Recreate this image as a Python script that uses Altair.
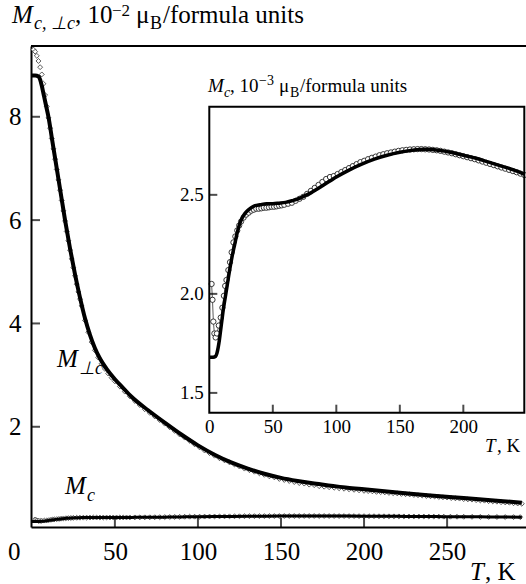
import altair as alt
import pandas as pd

# ---------------- data ----------------
# main panel: M_perp_c, 10^-2 mu_B / f.u.
T_perp_fit = [0, 2, 4, 5, 6, 7, 8, 9, 10, 12, 14, 16, 18, 20, 23, 26, 29, 32, 35, 38, 41, 45, 50, 55,
              60, 70, 80, 90, 100, 110, 120, 130, 140, 150, 160, 170, 180, 190, 200, 220, 240, 260, 280, 295]
M_perp_fit = [8.8, 8.8, 8.78, 8.72, 8.6, 8.45, 8.3, 8.15, 8.0, 7.6, 7.2, 6.8, 6.4, 6.0, 5.45, 4.95, 4.5, 4.1,
              3.78, 3.52, 3.32, 3.12, 2.92, 2.75, 2.58, 2.32, 2.08, 1.85, 1.64, 1.46, 1.31, 1.19, 1.09, 1.01,
              0.95, 0.90, 0.86, 0.82, 0.79, 0.73, 0.67, 0.62, 0.57, 0.53]

T_perp_pts = [1, 2, 3, 4, 5, 6, 7, 8, 9, 10, 11, 12, 13, 14, 15, 16, 17, 18, 19, 20, 21, 22, 23, 24, 25, 26,
              27, 28, 29, 30, 32, 34, 36, 38, 40, 42, 44, 46, 48, 50, 53, 56, 59, 62, 65, 68, 71, 74, 77, 80,
              83, 86, 89, 92, 95, 98, 101, 104, 107, 110, 113, 116, 119, 122, 125, 128, 131, 134, 137, 140,
              143, 146, 149, 152, 155, 158, 161, 164, 167, 170, 173, 176, 179, 182, 185, 188, 191, 194, 197,
              200, 202.5, 205, 207.5, 210, 212.5, 215, 217.5, 220, 222.5, 225, 227.5, 230, 232.5, 235, 237.5,
              240, 242.5, 245, 247.5, 250, 252.5, 255, 257.5, 260, 262.5, 265, 267.5, 270, 272.5, 275, 277.5,
              280, 282.5, 285, 287.5, 290, 292.5, 295]
M_perp_pts = [9.30, 9.26, 9.18, 9.08, 8.96, 8.82, 8.64, 8.42, 8.20, 7.98,
              7.78, 7.58, 7.38, 7.18, 6.98, 6.78, 6.58, 6.38, 6.18, 5.98,
              5.78, 5.60, 5.42, 5.25, 5.08, 4.92, 4.76, 4.61, 4.47, 4.34,
              4.06, 3.83, 3.64, 3.48, 3.34, 3.22, 3.12, 3.03, 2.95, 2.88,
              2.78, 2.68, 2.59, 2.50, 2.42, 2.34, 2.27, 2.20, 2.13, 2.06, 1.99, 1.92, 1.85, 1.79, 1.73, 1.66,
              1.60, 1.54, 1.49, 1.44, 1.39, 1.35, 1.31, 1.27, 1.23, 1.19, 1.16, 1.13, 1.10, 1.07, 1.04, 1.02,
              0.99, 0.97, 0.95, 0.93, 0.91, 0.90, 0.88, 0.87, 0.85, 0.84, 0.83, 0.82, 0.81, 0.80, 0.79, 0.78,
              0.77, 0.76,
              0.755, 0.75, 0.74, 0.735, 0.73, 0.72, 0.715, 0.71, 0.70, 0.695, 0.69, 0.68, 0.675, 0.67, 0.66,
              0.655, 0.65, 0.64, 0.635, 0.63, 0.62, 0.615, 0.61, 0.60, 0.595, 0.59, 0.58, 0.575, 0.57, 0.56,
              0.555, 0.55, 0.54, 0.535, 0.53, 0.52, 0.515, 0.51]

# M_c, 10^-3 mu_B / f.u. (inset; the main panel shows the same curve in 10^-2 units)
T_c_fit = [0, 3, 5, 6, 7, 8, 9, 10, 11, 12, 13, 14, 15, 16, 18, 20, 22, 24, 26, 28, 30, 33, 36, 40,
           45, 50, 55, 60, 65, 70, 75, 80, 85, 90, 95, 100, 110, 120, 130, 140, 150, 160, 170, 180,
           190, 200, 210, 220, 230, 240, 248, 260, 270, 280, 295]
M_c_fit = [1.68, 1.68, 1.685, 1.70, 1.73, 1.77, 1.82, 1.87, 1.92, 1.96, 2.00, 2.04, 2.08, 2.12,
           2.19, 2.25, 2.31, 2.355, 2.385, 2.405, 2.42, 2.435, 2.445, 2.45,
           2.455, 2.455, 2.458, 2.462, 2.47, 2.48, 2.495, 2.51, 2.53, 2.55, 2.57, 2.59,
           2.625, 2.655, 2.68, 2.70, 2.715, 2.725, 2.73, 2.725, 2.715, 2.70, 2.685, 2.665, 2.645, 2.625,
           2.605, 2.58, 2.56, 2.54, 2.51]

T_c_pts = [1.8, 2.5, 3.2, 4.0, 5.0, 6.0, 7.5, 9.0, 10.3, 11.5, 12.5, 13.5, 15.0, 16.3, 17.6, 19.0, 20.5,
           22.0, 23.5, 25.0, 27, 29, 31, 33, 35, 37, 39, 41, 43, 45, 47, 49, 51, 53, 55, 57, 59,
           62, 65, 68, 71, 74, 77, 80, 83, 86, 89, 92, 95, 98,
           101, 104, 107, 110, 113, 116, 119, 122, 125, 128, 131, 134, 137, 140, 143, 146, 149, 152, 155,
           158, 161, 164, 167, 170, 173, 176, 179, 182, 185, 188, 191, 194, 197, 200, 203, 206, 209, 212,
           215, 218, 221, 224, 227, 230, 233, 236, 239, 242, 245, 248,
           252, 256, 260, 265, 270, 275, 280, 285, 290, 294]
M_c_pts = [2.05, 1.97, 1.86, 1.80, 1.78, 1.80, 1.84, 1.88, 1.93, 1.99, 2.04, 2.07, 2.12, 2.16, 2.21,
           2.26, 2.29, 2.32, 2.345, 2.365, 2.385, 2.40, 2.41, 2.42, 2.425, 2.43, 2.43, 2.432, 2.435,
           2.435, 2.437, 2.44, 2.44, 2.442, 2.445, 2.447, 2.45,
           2.455, 2.46, 2.47, 2.48, 2.49, 2.505, 2.52, 2.535, 2.55, 2.565, 2.58, 2.59, 2.595,
           2.605, 2.615, 2.625, 2.635, 2.645, 2.655, 2.665, 2.672, 2.68, 2.687, 2.693, 2.70, 2.705,
           2.71, 2.714, 2.718, 2.722, 2.725, 2.727, 2.729, 2.73, 2.731, 2.731, 2.73, 2.729, 2.727,
           2.725, 2.722, 2.718, 2.714, 2.71, 2.705, 2.70, 2.695, 2.69, 2.685, 2.68, 2.674, 2.668,
           2.662, 2.656, 2.65, 2.644, 2.638, 2.632, 2.626, 2.62, 2.614, 2.607, 2.60,
           2.592, 2.584, 2.576, 2.566, 2.556, 2.546, 2.536, 2.526, 2.516, 2.508]

MAIN_X_TICKS = [50, 100, 150, 200, 250]
MAIN_X_LABELS = [0, 50, 100, 150, 200, 250]
MAIN_Y_TICKS = [2, 4, 6, 8]
INSET_X_TICKS = [50, 100, 150, 200]
INSET_X_LABELS = [0, 50, 100, 150, 200]
INSET_Y_TICKS = [1.5, 2.0, 2.5]

assert len(T_perp_fit) == len(M_perp_fit)
assert len(T_perp_pts) == len(M_perp_pts)
assert len(T_c_fit) == len(M_c_fit)
assert len(T_c_pts) == len(M_c_pts)

# ---------------- layout ----------------
PAD_L, PAD_T = 31, 46
W, H = 495, 481
SERIF = "Liberation Serif, Times New Roman, serif"
INSET_XDOM = [0, 248]
INSET_YDOM = [1.40, 2.945]
IX0, IX1 = 178.3, 493.3
IY_BOT, IY_TOP = 366.7, 60.7

df_perp_fit = pd.DataFrame({"T": T_perp_fit, "M": M_perp_fit})
df_perp_pts = pd.DataFrame({"T": T_perp_pts, "M": M_perp_pts})
# unit change 10^-3 -> 10^-2 for the main panel
df_c_fit_main = pd.DataFrame({"T": T_c_fit, "M": [v / 10 for v in M_c_fit]})
df_c_pts_main = pd.DataFrame({"T": T_c_pts, "M": [v / 10 for v in M_c_pts]})
df_c_fit_in = pd.DataFrame({"T": T_c_fit, "M": M_c_fit})
df_c_fit_in = df_c_fit_in[df_c_fit_in["T"] <= INSET_XDOM[1]]
df_c_pts_in = pd.DataFrame({"T": T_c_pts, "M": M_c_pts})
df_c_pts_in = df_c_pts_in[df_c_pts_in["T"] <= INSET_XDOM[1]]
ONE = pd.DataFrame({"k": [0]})

mx = alt.Scale(domain=[-0.5, 297.5], nice=False, zero=False)
my = alt.Scale(domain=[0.06, 9.37], nice=False, zero=False)
ix = alt.Scale(domain=INSET_XDOM, range=[IX0, IX1], nice=False, zero=False)
iy = alt.Scale(domain=INSET_YDOM, range=[IY_BOT, IY_TOP], nice=False, zero=False)

mx_axis = alt.Axis(values=MAIN_X_LABELS, format="d", title=None, grid=False, ticks=False, tickSize=0,
                   domain=True, domainColor="black", domainWidth=2, labelFont=SERIF, labelFontSize=25,
                   labelColor="black", labelPadding=12, labelFlush=False, labelOverlap=False,
                   labelOffset={"condition": {"test": "datum.value === 0", "value": -18}, "value": 0})
my_axis = alt.Axis(values=MAIN_Y_TICKS, format="d", title=None, grid=False, ticks=False, tickSize=0,
                   domain=True, domainColor="black", domainWidth=2, labelFont=SERIF, labelFontSize=25,
                   labelColor="black", labelPadding=10, labelFlush=False, labelOverlap=False)
ix_axis = alt.Axis(values=INSET_X_LABELS, format="d", title=None, grid=False, ticks=False, tickSize=0,
                   domain=False, orient="bottom", offset=-(H - IY_BOT), labelFont=SERIF, labelFontSize=19,
                   labelColor="black", labelPadding=5, labelFlush=False, labelOverlap=False)
iy_axis = alt.Axis(values=INSET_Y_TICKS, format=".1f", title=None, grid=False, ticks=False, tickSize=0,
                   domain=False, orient="left", offset=-IX0, labelFont=SERIF, labelFontSize=19,
                   labelColor="black", labelPadding=6, labelFlush=False, labelOverlap=False)


def MX(f="T"):
    return alt.X(f"{f}:Q", scale=mx, axis=mx_axis)


def MY(f="M"):
    return alt.Y(f"{f}:Q", scale=my, axis=my_axis)


def IXc(f="T"):
    return alt.X(f"{f}:Q", scale=ix, axis=ix_axis)


def IYc(f="M"):
    return alt.Y(f"{f}:Q", scale=iy, axis=iy_axis)


def txt(s, x, y, size, italic=False):
    return alt.Chart(ONE).mark_text(
        text=s, font=SERIF, fontSize=size, fontStyle="italic" if italic else "normal",
        align="left", baseline="alphabetic", color="black"
    ).encode(x=alt.value(x - PAD_L), y=alt.value(y - PAD_T))


diamond = dict(shape="diamond", filled=True, fill="white", stroke="#333333", strokeWidth=0.8, size=24, opacity=1)
circle = dict(shape="circle", filled=True, fill="white", stroke="#222222", strokeWidth=0.9, size=28, opacity=1)

# ---------------- main panel ----------------
top_rule = alt.Chart(ONE).mark_rule(color="black", strokeWidth=2).encode(
    x=alt.value(0), x2=alt.value(W), y=alt.value(0))
perp_pts = alt.Chart(df_perp_pts).mark_point(**diamond).encode(x=MX(), y=MY())
perp_line = alt.Chart(df_perp_fit).mark_line(color="black", strokeWidth=4, interpolate="monotone").encode(x=MX(), y=MY())
c_pts = alt.Chart(df_c_pts_main).mark_point(**diamond).encode(x=MX(), y=MY())
c_line = alt.Chart(df_c_fit_main).mark_line(color="black", strokeWidth=3, interpolate="monotone").encode(x=MX(), y=MY())
mxt = alt.Chart(pd.DataFrame({"T": MAIN_X_TICKS})).mark_tick(
    orient="vertical", size=9, thickness=2, color="black").encode(x=MX(), y=alt.value(H - 4.5))
myt = alt.Chart(pd.DataFrame({"M": MAIN_Y_TICKS})).mark_tick(
    orient="horizontal", size=9, thickness=2, color="black").encode(y=MY(), x=alt.value(4.5))

texts = [
    # title: M_{c, ⊥c}, 10^{−2} μ_B/formula units
    txt("M", 12, 23, 25, True),
    txt("c, ⊥c", 34, 29, 18, True),
    txt(", 10", 75, 23, 25),
    txt("−2", 112, 16, 17),
    txt("μ", 136, 23, 25),
    txt("B", 150, 29, 18),
    txt("/formula units", 163, 23, 25),
    # curve labels
    txt("M", 57, 367, 25, True),
    txt("⊥c", 79, 374, 18, True),
    txt("M", 65, 494, 25, True),
    txt("c", 87, 501, 18, True),
    # main x title
    txt("T", 470, 580, 25, True),
    txt(", K", 485, 580, 25),
    # inset title: M_c, 10^{−3} μ_B/formula units
    txt("M", 208, 92, 19, True),
    txt("c", 224, 97, 14, True),
    txt(", 10", 230, 92, 19),
    txt("−3", 259, 85, 14),
    txt("μ", 279, 92, 19),
    txt("B", 290, 97, 14),
    txt("/formula units", 300, 92, 19),
    # inset x title
    txt("T", 485, 452, 19, True),
    txt(", K", 497, 452, 19),
]

main = alt.layer(top_rule, perp_pts, perp_line, c_pts, c_line, mxt, myt, *texts)

# ---------------- inset ----------------
frame = alt.Chart(ONE).mark_rect(fillOpacity=0, stroke="black", strokeWidth=2).encode(
    x=alt.X(datum=INSET_XDOM[0], type="quantitative", scale=ix, axis=ix_axis),
    x2=alt.X2(datum=INSET_XDOM[1]),
    y=alt.Y(datum=INSET_YDOM[0], type="quantitative", scale=iy, axis=iy_axis),
    y2=alt.Y2(datum=INSET_YDOM[1]),
)
in_conn = alt.Chart(df_c_pts_in).mark_line(color="#333333", strokeWidth=0.8).encode(x=IXc(), y=IYc())
in_pts = alt.Chart(df_c_pts_in).mark_point(**circle).encode(x=IXc(), y=IYc())
in_line = alt.Chart(df_c_fit_in).mark_line(color="black", strokeWidth=3.5, interpolate="monotone").encode(x=IXc(), y=IYc())
ixt = alt.Chart(pd.DataFrame({"T": INSET_X_TICKS})).mark_tick(
    orient="vertical", size=8, thickness=2, color="black").encode(x=IXc(), y=alt.value(IY_BOT - 4))
iyt = alt.Chart(pd.DataFrame({"M": INSET_Y_TICKS})).mark_tick(
    orient="horizontal", size=8, thickness=2, color="black").encode(y=IYc(), x=alt.value(IX0 + 4))

inset = alt.layer(in_conn, in_pts, in_line, ixt, iyt, frame)

chart = alt.layer(main, inset).resolve_scale(x="independent", y="independent").properties(
    width=W, height=H,
    padding={"left": PAD_L, "top": PAD_T, "right": 0, "bottom": 584 - PAD_T - H},
    autosize=alt.AutoSizeParams(type="none"),
).configure_view(stroke=None)

chart.save("out.html", embed_options={"renderer": "svg", "actions": False})
